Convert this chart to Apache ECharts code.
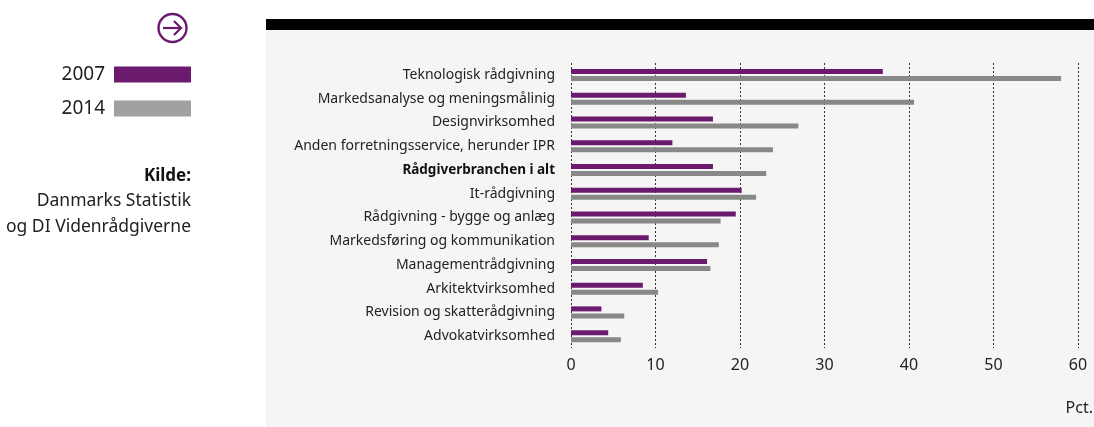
<!DOCTYPE html>
<html><head><meta charset="utf-8">
<script src="https://cdn.jsdelivr.net/npm/echarts@6/dist/echarts.min.js"></script>
<style>html,body{margin:0;padding:0;background:#fff}#c{width:1094px;height:427px}</style>
</head><body><div id="c"></div>
<script>
const categories = ['Teknologisk rådgivning','Markedsanalyse og meningsmålinig','Designvirksomhed','Anden forretningsservice, herunder IPR','Rådgiverbranchen i alt','It-rådgivning','Rådgivning - bygge og anlæg','Markedsføring og kommunikation','Managementrådgivning','Arkitektvirksomhed','Revision og skatterådgivning','Advokatvirksomhed'];
const values2007 = [36.9,13.6,16.8,12.0,16.8,20.2,19.5,9.2,16.1,8.5,3.6,4.4];
const values2014 = [58.0,40.6,26.9,23.9,23.1,21.9,17.7,17.5,16.5,10.3,6.3,5.9];
const seriesNames = ['2007','2014'];
const boldCategory = 'Rådgiverbranchen i alt';
const sourceLines = ['Kilde:','Danmarks Statistik','og DI Videnrådgiverne'];
const unitLabel = 'Pct.';

const FONT = 'Noto Sans';
const PURPLE = '#6b1a6e';
const chart = echarts.init(document.getElementById('c'), null, {renderer:'canvas'});
chart.setOption({
  animation:false,
  textStyle:{fontFamily:FONT},
  grid:{left:571,right:16,top:63,bottom:79,containLabel:false},
  xAxis:{type:'value',min:0,max:60,interval:10,
    axisLine:{show:false},axisTick:{show:false},
    axisLabel:{color:'#222',fontSize:16,margin:9,fontFamily:FONT},
    splitLine:{show:true,lineStyle:{color:'#333',type:[2,2],width:1}}},
  yAxis:{type:'category',data:categories,inverse:true,
    axisLine:{show:false},axisTick:{show:false},splitLine:{show:false},
    axisLabel:{color:'#222',fontSize:14,margin:16,fontFamily:FONT,
      formatter:v=> v===boldCategory ? '{b|'+v+'}' : v,
      rich:{b:{fontWeight:'bold',fontSize:13.5,color:'#111',fontFamily:FONT}}}},
  legend:{orient:'vertical',right:903,top:65,padding:0,itemWidth:77,itemHeight:16,itemGap:15,align:'right',
    icon:'rect',selectedMode:false,
    textStyle:{color:'#222',fontSize:19,lineHeight:16,fontFamily:FONT,padding:[0,4,0,0]},
    data:[{name:seriesNames[0],itemStyle:{color:PURPLE}},{name:seriesNames[1],itemStyle:{color:'#a0a0a0'}}]},
  series:[
    {name:seriesNames[0],type:'bar',data:values2007,barWidth:5,barGap:'40%',itemStyle:{color:PURPLE}},
    {name:seriesNames[1],type:'bar',data:values2014,barWidth:5,itemStyle:{color:'#888888'}}
  ],
  graphic:[
    {type:'rect',z:-100,shape:{x:266,y:30,width:828,height:397},style:{fill:'#f5f5f5'},silent:true},
    {type:'rect',z:-100,shape:{x:266,y:19,width:828,height:11},style:{fill:'#000'},silent:true},
    {type:'circle',shape:{cx:172.5,cy:28,r:14},style:{fill:'none',stroke:PURPLE,lineWidth:2.4}},
    {type:'polyline',shape:{points:[[163,28],[181,28]]},style:{stroke:PURPLE,lineWidth:2.2,fill:'none'}},
    {type:'polyline',shape:{points:[[174,21],[181,28],[174,35]]},style:{stroke:PURPLE,lineWidth:2.2,fill:'none'}},
    {type:'text',right:903,top:168,style:{text:sourceLines[0],font:'bold 17px "Noto Sans"',fill:'#111',textAlign:'right'}},
    {type:'text',right:903,top:192,style:{text:sourceLines[1],font:'17.5px "Noto Sans"',fill:'#222',textAlign:'right'}},
    {type:'text',right:903,top:218,style:{text:sourceLines[2],font:'17.5px "Noto Sans"',fill:'#222',textAlign:'right'}},
    {type:'text',right:1,top:400,style:{text:unitLabel,font:'16px "Noto Sans"',fill:'#222',textAlign:'right'}}
  ]
});
</script></body></html>
